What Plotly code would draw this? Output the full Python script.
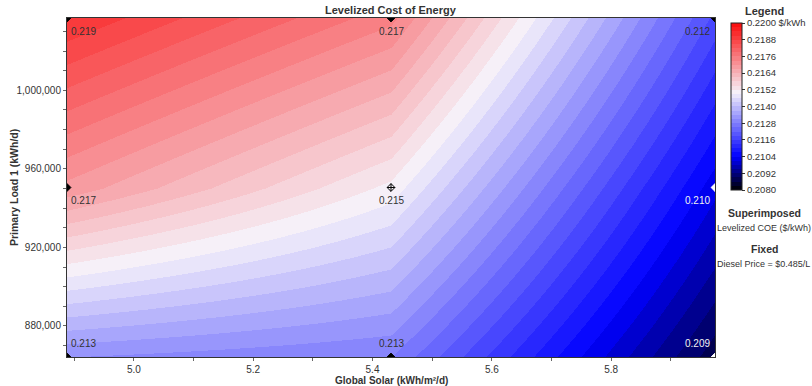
import plotly.graph_objects as go

# Sensitivity grid: global solar (x) by primary load (y)
solar = [4.888, 5.431, 5.974]                 # kWh/m²/d
load = [864200, 950500, 1036800]              # kWh/d
# Levelized cost of energy ($/kWh), rows follow `load`, columns follow `solar`
coe = [
    [0.2131, 0.2128, 0.2087],
    [0.2169, 0.2151, 0.2102],
    [0.2191, 0.2174, 0.2118],
]

cbar_ticks = [0.2080, 0.2092, 0.2104, 0.2116, 0.2128, 0.2140,
              0.2152, 0.2164, 0.2176, 0.2188, 0.2200]
x_ticks = [5.0, 5.2, 5.4, 5.6, 5.8]
y_ticks = [880000, 920000, 960000, 1000000]

ZMIN, ZMAX, STEP = 0.2080, 0.2200, 0.0003
FONT = "Liberation Sans, Arial, sans-serif"

# Diverging base ramp: black -> blue -> near white -> red
ramp = [
    (0.2080, (0, 0, 0)),
    (0.2104, (0, 0, 255)),
    (0.2150, (246, 242, 250)),
    (0.2200, (250, 10, 10)),
]


def ramp_color(v):
    for (v0, c0), (v1, c1) in zip(ramp[:-1], ramp[1:]):
        if v <= v1:
            t = max(0.0, min(1.0, (v - v0) / (v1 - v0)))
            return "rgb(%d,%d,%d)" % tuple(round(a + (b - a) * t) for a, b in zip(c0, c1))
    return "rgb(%d,%d,%d)" % ramp[-1][1]


# Banded colour scale (one flat colour per contour band)
nbands = round((ZMAX - ZMIN) / STEP)
colorscale = []
for k in range(nbands):
    col = ramp_color(ZMIN + (k + 0.5) * STEP)
    colorscale.append([k / nbands, col])
    colorscale.append([(k + 1) / nbands, col])

# Plot-area placement in pixels
W, H = 812, 386
L, R, T, B = 67, 715, 18, 357


def px(xp):
    return (xp - L) / (R - L)


def py(yp):
    return (B - yp) / (B - T)


fig = go.Figure()

fig.add_trace(go.Heatmap(
    x=solar, y=load, z=coe,
    zsmooth="best",
    zmin=ZMIN, zmax=ZMAX,
    colorscale=colorscale,
    hoverinfo="skip",
    colorbar=dict(
        x=px(731), xanchor="left", xpad=0,
        y=py(106.5), yanchor="middle", ypad=0,
        len=(190 - 23) / (B - T), lenmode="fraction",
        thickness=11, thicknessmode="pixels",
        outlinewidth=1, outlinecolor="#222",
        tickmode="array",
        tickvals=cbar_ticks,
        ticktext=[("%.4f $/kWh" if v == ZMAX else "%.4f") % v for v in cbar_ticks],
        ticks="outside", ticklen=3, tickcolor="#333",
        tickfont=dict(family=FONT, size=9.5, color="#333"),
    ),
))

# Grid-point markers
mx, my, mc, ms = [], [], [], []
for j, yv in enumerate(load):
    for i, xv in enumerate(solar):
        mx.append(xv)
        my.append(yv)
        mc.append("white" if coe[j][i] < 0.211 else "black")
        ms.append("diamond-cross-open" if (i == 1 and j == 1) else "diamond")
fig.add_trace(go.Scatter(
    x=mx, y=my, mode="markers",
    marker=dict(symbol=ms, size=6, color=mc, line=dict(color=mc, width=1)),
    hoverinfo="skip", showlegend=False, cliponaxis=True,
))

annotations = []
# Value labels beside each grid point
for j, yv in enumerate(load):
    for i, xv in enumerate(solar):
        v = coe[j][i]
        anchor = ["left", "center", "right"][i]
        xs = [2, 0, -3][i]
        ys = 14 if j == 0 else -13
        annotations.append(dict(
            x=xv, y=yv, xref="x", yref="y",
            text="%.3f" % v, showarrow=False,
            xanchor=anchor, yanchor="middle", xshift=xs, yshift=ys,
            font=dict(family=FONT, size=10,
                      color="#f2f2f2" if v < 0.211 else "#333"),
        ))


def label(x, y, text, size=10, bold=False, angle=0):
    annotations.append(dict(
        x=px(x), y=py(y), xref="paper", yref="paper",
        text="<b>%s</b>" % text if bold else text, showarrow=False,
        xanchor="center", yanchor="middle", textangle=angle,
        font=dict(family=FONT, size=size, color="#333"),
    ))


label(391, 10, "Levelized Cost of Energy", 11, True)
label(391, 380, "Global Solar (kWh/m²/d)", 10, True)
label(14, 188, "Primary Load 1 (kWh/d)", 10.5, True, -90)
label(765, 11, "Legend", 11, True)
label(765, 213, "Superimposed", 10.5, True)
label(764, 228, "Levelized COE ($/kWh)", 9)
label(765, 249, "Fixed", 10.5, True)
label(763, 264, "Diesel Price = $0.485/L", 9)

axis_common = dict(
    showgrid=False, zeroline=False,
    showline=True, linecolor="#333", linewidth=1, mirror=True,
    ticks="outside", ticklen=3, tickcolor="#666",
    tickfont=dict(family=FONT, size=10, color="#333"),
)

fig.update_layout(
    width=W, height=H,
    margin=dict(l=L, r=W - R, t=T, b=H - B, pad=0, autoexpand=False),
    paper_bgcolor="white", plot_bgcolor="white",
    showlegend=False,
    annotations=annotations,
    xaxis=dict(
        range=[solar[0], solar[-1]],
        tickmode="array", tickvals=x_ticks,
        ticktext=["%.1f" % v for v in x_ticks],
        ticklabelstandoff=0,
        minor=dict(dtick=0.1, tick0=4.9, ticks="outside", ticklen=3, tickcolor="#666"),
        **axis_common,
    ),
    yaxis=dict(
        range=[load[0], load[-1]],
        tickmode="array", tickvals=y_ticks,
        ticktext=["{:,}".format(v) for v in y_ticks],
        minor=dict(dtick=10000, tick0=0, ticks="outside", ticklen=3, tickcolor="#666"),
        **axis_common,
    ),
)

fig.write_html("out.html")
